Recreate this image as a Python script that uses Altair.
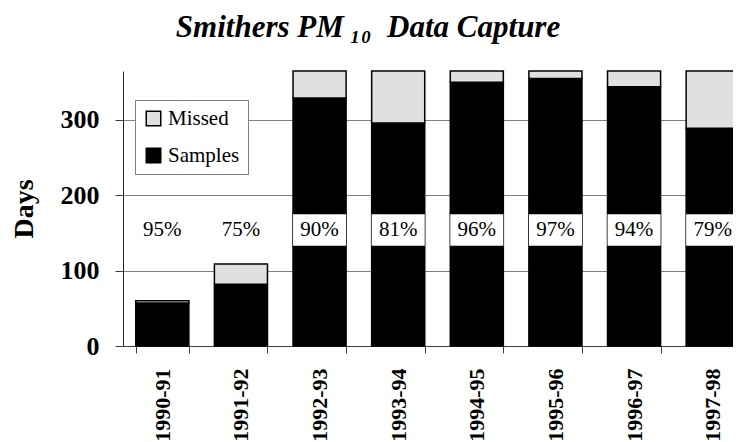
import altair as alt
import pandas as pd

years = ["1990-91", "1991-92", "1992-93", "1993-94", "1994-95", "1995-96", "1996-97", "1997-98"]
samples = [57, 82, 329, 296, 350, 355, 344, 289]
missed = [3, 27, 36, 69, 15, 10, 21, 76]
pct_labels = ["95%", "75%", "90%", "81%", "96%", "97%", "94%", "79%"]
series = ["Missed", "Samples"]
series_colors = ["#e0e0e0", "#000000"]

rows = []
for y, s, m in zip(years, samples, missed):
    rows.append({"year": y, "series": "Samples", "days": s, "ord": 0})
    rows.append({"year": y, "series": "Missed", "days": m, "ord": 1})
df = pd.DataFrame(rows)
lab = pd.DataFrame({"year": years, "pct": pct_labels})

FONT = "Liberation Serif"

xscale = alt.Scale(domain=years, range=[0, 629], paddingInner=0.325, paddingOuter=0.1625)
yscale = alt.Scale(domain=[0, 365], nice=False)

xaxis = alt.Axis(title=None, labelAngle=-90, labelFont=FONT, labelFontSize=22,
                 labelFontWeight="bold", labelColor="black", tickBand="extent",
                 tickSize=7, labelPadding=15, domainColor="#404040", tickColor="#404040",
                 grid=False)
yaxis = alt.Axis(values=[0, 100, 200, 300], title="Days", titleFont=FONT, titleFontSize=28,
                 titleFontWeight="bold", titleColor="black", labelFont=FONT, labelFontSize=26,
                 labelFontWeight="bold", labelColor="black", tickSize=8, labelPadding=16,
                 titlePadding=22, gridColor="#808080", gridWidth=1, domainColor="#202020",
                 tickColor="#404040")

bars = alt.Chart(df).mark_bar(stroke="black", strokeWidth=1.5).encode(
    x=alt.X("year:N", scale=xscale, axis=xaxis, sort=years),
    y=alt.Y("days:Q", stack="zero", scale=yscale, axis=yaxis),
    color=alt.Color("series:N", scale=alt.Scale(domain=series, range=series_colors),
                    legend=alt.Legend(title=None, orient="none", legendX=12, legendY=29,
                                      direction="vertical", fillColor="white",
                                      strokeColor="#808080", padding=8,
                                      symbolType="square", symbolSize=210,
                                      symbolStrokeColor="black", symbolStrokeWidth=1.5,
                                      labelFont=FONT, labelFontSize=21, labelColor="black",
                                      rowPadding=15, labelOffset=4)),
    order=alt.Order("ord:Q"),
)

boxes = alt.Chart(lab).mark_bar(color="white").encode(
    x=alt.X("year:N", scale=xscale, sort=years),
    y=alt.datum(133),
    y2=alt.datum(175),
)

texts = alt.Chart(lab).mark_text(font=FONT, fontSize=21, color="black", baseline="middle").encode(
    x=alt.X("year:N", scale=xscale, sort=years),
    y=alt.datum(154),
    text="pct:N",
)

chart = alt.layer(bars, boxes, texts).properties(
    width=610, height=275,
    autosize=alt.AutoSizeParams(type="none"),
    padding={"left": 115, "top": 63, "right": 0, "bottom": 96},
    title=alt.TitleParams("Smithers PM\u2009₁₀\u2002Data Capture", font=FONT, fontSize=31,
                          fontWeight="bold", fontStyle="italic", color="black",
                          anchor="middle", frame="group", dx=-60, offset=26),
).configure_view(stroke=None)

chart.save("out.html", embed_options={"renderer": "svg", "actions": False})
